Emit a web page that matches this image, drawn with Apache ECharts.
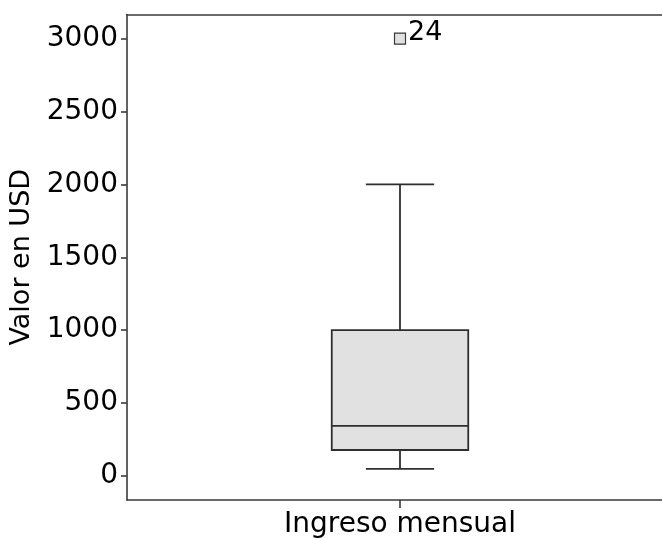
<!DOCTYPE html>
<html>
<head>
<meta charset="utf-8">
<script src="https://cdn.jsdelivr.net/npm/echarts@6/dist/echarts.min.js"></script>
<style>html,body{margin:0;padding:0;background:#fff;overflow:hidden;width:662px;height:541px}#c{width:700px;height:541px}</style>
</head>
<body>
<div id="c"></div>
<script>
const categories = ['Ingreso mensual'];
// [min, Q1, median, Q3, max]
const boxStats = [[48, 178, 343, 1000, 2000]];
const outlierValues = [3000];
const outlierLabels = ['24'];
const yTicks = [0, 500, 1000, 1500, 2000, 2500, 3000];
const yTitle = 'Valor en USD';

const FONT = 'DejaVu Sans';
const AXIS = '#3a3a3a';
const chart = echarts.init(document.getElementById('c'), null, {renderer: 'canvas'});

const customData = boxStats.map((s, i) => [i].concat(s));
const outlierData = outlierValues.map((v, i) => ({value: [0, v], label: {formatter: outlierLabels[i]}}));

chart.setOption({
  animation: false,
  grid: {left: 127, top: 14.5, width: 546, height: 485.5, outerBoundsMode: 'none', containLabel: false, show: false},
  xAxis: [
    {
      type: 'category', data: categories,
      splitLine: {show: false},
      axisLine: {onZero: false, lineStyle: {color: AXIS, width: 1.6}},
      axisTick: {show: true, interval: 0, alignWithLabel: true, length: 8, lineStyle: {color: AXIS, width: 1.6}},
      axisLabel: {color: '#000', fontFamily: FONT, fontSize: 28, margin: 11, interval: 0}
    },
    {
      type: 'category', data: categories, position: 'top',
      splitLine: {show: false},
      axisLine: {show: true, onZero: false, lineStyle: {color: AXIS, width: 1.6}},
      axisTick: {show: false}, axisLabel: {show: false}
    }
  ],
  yAxis: {
    type: 'value', min: -165, max: 3165,
    name: yTitle, nameLocation: 'middle', nameGap: 86,
    nameTextStyle: {color: '#000', fontFamily: FONT, fontSize: 27},
    splitLine: {show: false},
    axisLine: {show: true, onZero: false, lineStyle: {color: AXIS, width: 1.6}},
    axisTick: {show: true, length: 6, customValues: yTicks, lineStyle: {color: AXIS, width: 1.6}},
    axisLabel: {color: '#000', fontFamily: FONT, fontSize: 28, margin: 9, customValues: yTicks,
                formatter: function (v) { return String(v); }}
  },
  series: [
    {
      type: 'custom',
      clip: false,
      data: customData,
      encode: {x: 0, y: [1, 2, 3, 4, 5]},
      renderItem: function (params, api) {
        const idx = api.value(0);
        const band = api.size([1, 0])[0];
        const boxW = band * 0.25;
        const capW = band * 0.125;
        const pMin = api.coord([idx, api.value(1)]);
        const pQ1 = api.coord([idx, api.value(2)]);
        const pMed = api.coord([idx, api.value(3)]);
        const pQ3 = api.coord([idx, api.value(4)]);
        const pMax = api.coord([idx, api.value(5)]);
        const cx = pMed[0];
        const lineStyle = {stroke: '#2e2e2e', lineWidth: 1.8, fill: null};
        return {
          type: 'group',
          children: [
            {type: 'line', shape: {x1: cx, y1: pQ3[1], x2: cx, y2: pMax[1]}, style: lineStyle},
            {type: 'line', shape: {x1: cx, y1: pQ1[1], x2: cx, y2: pMin[1]}, style: lineStyle},
            {type: 'line', shape: {x1: cx - capW / 2, y1: pMax[1], x2: cx + capW / 2, y2: pMax[1]}, style: lineStyle},
            {type: 'line', shape: {x1: cx - capW / 2, y1: pMin[1], x2: cx + capW / 2, y2: pMin[1]}, style: lineStyle},
            {type: 'rect', shape: {x: cx - boxW / 2, y: pQ3[1], width: boxW, height: pQ1[1] - pQ3[1]}, style: {fill: '#e1e1e1', stroke: '#2e2e2e', lineWidth: 1.8}},
            {type: 'line', shape: {x1: cx - boxW / 2, y1: pMed[1], x2: cx + boxW / 2, y2: pMed[1]}, style: lineStyle}
          ]
        };
      }
    },
    {
      type: 'scatter',
      data: outlierData,
      symbol: 'rect', symbolSize: 11,
      itemStyle: {color: '#e1e1e1', borderColor: '#3a3a3a', borderWidth: 1.2, opacity: 1},
      label: {show: true, position: 'right', distance: 2, offset: [0, -6], color: '#000', fontFamily: FONT, fontSize: 27}
    }
  ]
});
</script>
</body>
</html>
